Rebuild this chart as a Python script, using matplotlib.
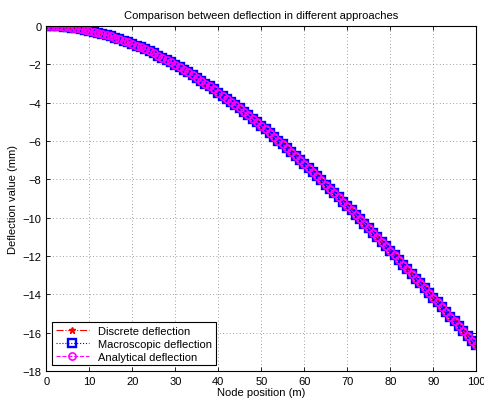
import matplotlib
matplotlib.use('Agg')
import matplotlib.pyplot as plt

# node positions (m) and deflection values (mm)
node_pos = list(range(0, 101))
discrete_defl = [0.00, -0.00, -0.01, -0.02, -0.04, -0.06, -0.09, -0.12, -0.16, -0.20,
                 -0.24, -0.29, -0.35, -0.40, -0.47, -0.53, -0.61, -0.68, -0.76, -0.85,
                 -0.93, -1.02, -1.12, -1.22, -1.32, -1.43, -1.54, -1.66, -1.78, -1.90,
                 -2.02, -2.15, -2.29, -2.42, -2.56, -2.70, -2.85, -3.00, -3.15, -3.31,
                 -3.47, -3.63, -3.79, -3.96, -4.13, -4.30, -4.48, -4.66, -4.84, -5.02,
                 -5.21, -5.39, -5.59, -5.78, -5.98, -6.17, -6.37, -6.58, -6.78, -6.99,
                 -7.20, -7.41, -7.62, -7.84, -8.05, -8.27, -8.49, -8.71, -8.94, -9.16,
                 -9.39, -9.62, -9.85, -10.08, -10.31, -10.54, -10.78, -11.01, -11.25, -11.49,
                 -11.73, -11.97, -12.21, -12.45, -12.70, -12.94, -13.18, -13.43, -13.68, -13.92,
                 -14.17, -14.42, -14.67, -14.91, -15.16, -15.41, -15.66, -15.91, -16.16, -16.41,
                 -16.66]
macro_defl = list(discrete_defl)
analytic_defl = list(discrete_defl)

plt.rcParams['font.family'] = ['Liberation Sans', 'DejaVu Sans']
plt.rcParams['font.size'] = 8

fig = plt.figure(figsize=(4.85, 4.06), dpi=100)
ax = fig.add_axes([0.0955, 0.0837, 0.8865, 0.8498])

ax.plot(node_pos, discrete_defl, color='red', linestyle='-.', marker='*',
        markersize=5, linewidth=0.8, label='Discrete deflection')
ax.plot(node_pos, macro_defl, color='blue', linestyle=':', marker='s',
        markersize=5.6, markerfacecolor='none', markeredgewidth=1.7,
        linewidth=0.8, label='Macroscopic deflection')
ax.plot(node_pos, analytic_defl, color='magenta', linestyle='--', marker='o',
        markersize=5.2, markerfacecolor='none', markeredgewidth=1.2,
        linewidth=0.8, label='Analytical deflection')

ax.set_xlim(0, 100)
ax.set_ylim(-18, 0)
ax.set_xticks(range(0, 101, 10))
ax.set_yticks(range(-18, 1, 2))
ax.tick_params(direction='in', top=True, right=True, length=3, width=0.6, labelsize=8)
ax.grid(True, linestyle=(0, (1, 3)), color='gray', linewidth=0.6)
for s in ax.spines.values():
    s.set_linewidth(0.8)

ax.set_xlabel('Node position (m)', labelpad=1)
ax.set_ylabel('Deflection value (mm)', labelpad=3)
ax.set_title('Comparison between deflection in different approaches', fontsize=8, pad=6)

leg = ax.legend(loc='lower left', handlelength=3.0, fancybox=False, framealpha=1,
                edgecolor='black', borderaxespad=0.5, labelspacing=0.25,
                borderpad=0.35, fontsize=8)
leg.get_frame().set_linewidth(0.8)

fig.savefig('out.png', dpi=100)
